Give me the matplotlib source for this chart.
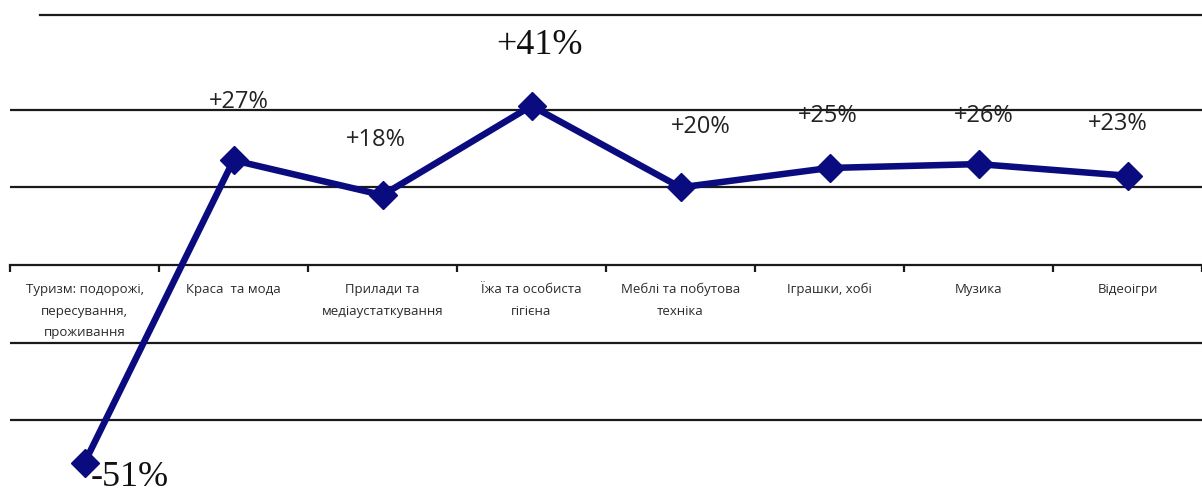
import matplotlib.pyplot as plt

categories = [
    "Туризм: подорожі,\nпересування,\nпроживання",
    "Краса  та мода",
    "Прилади та\nмедіаустаткування",
    "Їжа та особиста\nгігієна",
    "Меблі та побутова\nтехніка",
    "Іграшки, хобі",
    "Музика",
    "Відеоігри",
]
values = [-51, 27, 18, 41, 20, 25, 26, 23]
labels = ["-51%", "+27%", "+18%", "+41%", "+20%", "+25%", "+26%", "+23%"]

# label offsets in pixels from the point, and which font each label uses
offsets = [(45, -15), (5, 58), (-7, 55), (8, 60), (20, 60), (-2, 52), (5, 48), (-10, 52)]
serif = [True, False, False, True, False, False, False, False]

navy = "#0b0b80"
grid_c = "#1a1a1a"

fig = plt.figure(figsize=(12.02, 4.95), dpi=100)
ax = fig.add_axes([10 / 1202, 0, 1 - 10 / 1202, 1])
ax.set_xlim(-0.5, 7.447)
ax.set_ylim(-59.3, 68.3)

# gridlines
for y in [20, 40, -20, -40]:
    ax.axhline(y, color=grid_c, lw=1.6, zorder=1)
ax.plot([-0.3, 7.7], [64.4, 64.4], color=grid_c, lw=1.6, zorder=1)

x = list(range(len(values)))
ax.plot(x, values, color=navy, lw=4.7, marker="D", markersize=14,
        solid_joinstyle="miter", zorder=3)

for xi, v, lab, off, s in zip(x, values, labels, offsets, serif):
    if s:
        ax.annotate(lab, (xi, v), xytext=off, textcoords="offset pixels",
                    ha="center", va="center", fontsize=26,
                    family="Liberation Serif", color="#111111", zorder=4)
    else:
        ax.annotate(lab, (xi, v), xytext=off, textcoords="offset pixels",
                    ha="center", va="center", fontsize=17,
                    family="Open Sans", color="#222222", zorder=4)

for side in ["top", "right", "left"]:
    ax.spines[side].set_visible(False)
ax.spines["bottom"].set_position(("data", 0))
ax.spines["bottom"].set_color(grid_c)
ax.spines["bottom"].set_linewidth(1.6)
ax.spines["bottom"].set_zorder(1)
ax.set_yticks([])

ax.set_xticks([i - 0.5 for i in range(9)])
ax.set_xticklabels([])
ax.tick_params(axis="x", which="major", direction="out", length=5, width=1.6, color=grid_c)
ax.set_xticks(x, minor=True)
ax.set_xticklabels(categories, minor=True, fontsize=9.5, family="Open Sans",
                   color="#2a2a2a", linespacing=1.85, va="top")
ax.tick_params(axis="x", which="minor", length=0, pad=13)

fig.savefig("out.png", dpi=100)
